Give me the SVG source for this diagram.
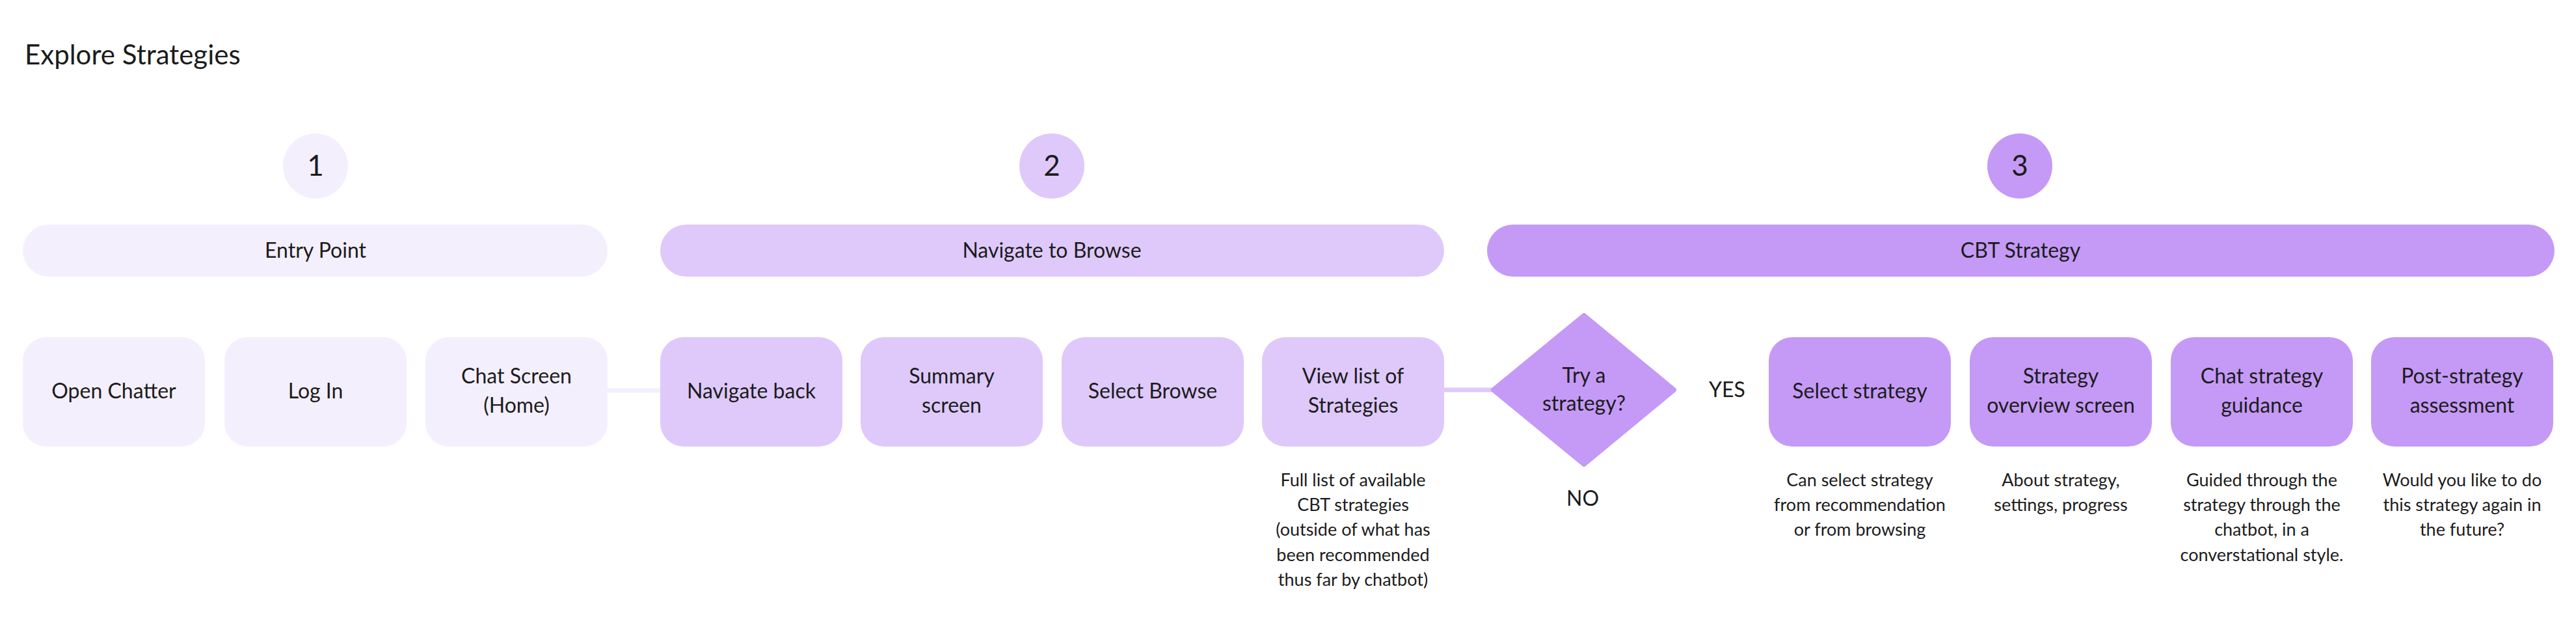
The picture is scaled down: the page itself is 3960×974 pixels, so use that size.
<svg xmlns="http://www.w3.org/2000/svg" width="3960" height="974" viewBox="0 0 3960 974">
<style>
text{font-family:Lato,"Open Sans","Liberation Sans",sans-serif;fill:#1c1c1c;text-anchor:middle}
.t{font-size:42px;text-anchor:start}
.num{font-size:44px}
.lbl{font-size:32px}
.desc{font-size:27px}
.p1{fill:#F4EFFD}
.p2{fill:#DEC9FA}
.p3{fill:#C49AF6}
.conn{stroke-width:7;fill:none}
</style>
<rect width="3960" height="974" fill="#ffffff"/>
<text class="t" x="38" y="99">Explore Strategies</text>

<g id="phase1">
<circle class="p1" cx="485" cy="255" r="50"/>
<text class="num" x="485" y="270">1</text>
<rect class="p1" x="35" y="345" width="899" height="80" rx="40"/>
<text class="lbl" x="485" y="396">Entry Point</text>
</g>
<g id="phase2">
<circle class="p2" cx="1617" cy="255" r="50"/>
<text class="num" x="1617" y="270">2</text>
<rect class="p2" x="1015" y="345" width="1205" height="80" rx="40"/>
<text class="lbl" x="1617" y="396">Navigate to Browse</text>
</g>
<g id="phase3">
<circle class="p3" cx="3105" cy="255" r="50"/>
<text class="num" x="3105" y="270">3</text>
<rect class="p3" x="2286" y="345" width="1641" height="80" rx="40"/>
<text class="lbl" x="3106" y="396">CBT Strategy</text>
</g>

<g id="connectors">
<line class="conn" x1="934" y1="600" x2="1015" y2="600" stroke="#F4EFFD"/>
<line class="conn" x1="2220" y1="599" x2="2296" y2="599" stroke="#DEC9FA"/>
</g>

<g id="open-chatter"><rect class="p1" x="35" y="518" width="280" height="168" rx="36"/><text class="lbl" x="175" y="612">Open Chatter</text></g>
<g id="log-in"><rect class="p1" x="345" y="518" width="280" height="168" rx="36"/><text class="lbl" x="485" y="612">Log In</text></g>
<g id="chat-screen"><rect class="p1" x="654" y="518" width="280" height="168" rx="36"/><text class="lbl" x="794" y="589">Chat Screen</text><text class="lbl" x="794" y="634">(Home)</text></g>

<g id="navigate-back"><rect class="p2" x="1015" y="518" width="280" height="168" rx="36"/><text class="lbl" x="1155" y="612">Navigate back</text></g>
<g id="summary-screen"><rect class="p2" x="1323" y="518" width="280" height="168" rx="36"/><text class="lbl" x="1463" y="589">Summary</text><text class="lbl" x="1463" y="634">screen</text></g>
<g id="select-browse"><rect class="p2" x="1632" y="518" width="280" height="168" rx="36"/><text class="lbl" x="1772" y="612">Select Browse</text></g>
<g id="view-list"><rect class="p2" x="1940" y="518" width="280" height="168" rx="36"/><text class="lbl" x="2080" y="589">View list of</text><text class="lbl" x="2080" y="634">Strategies</text>
<text class="desc" x="2080" y="747">Full list of available</text>
<text class="desc" x="2080" y="785">CBT strategies</text>
<text class="desc" x="2080" y="823">(outside of what has</text>
<text class="desc" x="2080" y="862">been recommended</text>
<text class="desc" x="2080" y="900">thus far by chatbot)</text>
</g>

<g id="decision">
<polygon class="p3" points="2435,485 2573,599 2435,713 2296,599" stroke="#C49AF6" stroke-width="8" stroke-linejoin="round"/>
<text class="lbl" x="2435" y="588">Try a</text>
<text class="lbl" x="2435" y="631">strategy?</text>
<text class="lbl" x="2655" y="610">YES</text>
<text class="lbl" x="2433" y="777">NO</text>
</g>

<g id="select-strategy"><rect class="p3" x="2719" y="518" width="280" height="168" rx="36"/><text class="lbl" x="2859" y="612">Select strategy</text>
<text class="desc" x="2859" y="747">Can select strategy</text>
<text class="desc" x="2859" y="785">from recommendation</text>
<text class="desc" x="2859" y="823">or from browsing</text>
</g>
<g id="strategy-overview"><rect class="p3" x="3028" y="518" width="280" height="168" rx="36"/><text class="lbl" x="3168" y="589">Strategy</text><text class="lbl" x="3168" y="634">overview screen</text>
<text class="desc" x="3168" y="747">About strategy,</text>
<text class="desc" x="3168" y="785">settings, progress</text>
</g>
<g id="chat-guidance"><rect class="p3" x="3337" y="518" width="280" height="168" rx="36"/><text class="lbl" x="3477" y="589">Chat strategy</text><text class="lbl" x="3477" y="634">guidance</text>
<text class="desc" x="3477" y="747">Guided through the</text>
<text class="desc" x="3477" y="785">strategy through the</text>
<text class="desc" x="3477" y="823">chatbot, in a</text>
<text class="desc" x="3477" y="862">converstational style.</text>
</g>
<g id="post-assessment"><rect class="p3" x="3645" y="518" width="280" height="168" rx="36"/><text class="lbl" x="3785" y="589">Post-strategy</text><text class="lbl" x="3785" y="634">assessment</text>
<text class="desc" x="3785" y="747">Would you like to do</text>
<text class="desc" x="3785" y="785">this strategy again in</text>
<text class="desc" x="3785" y="823">the future?</text>
</g>
</svg>
